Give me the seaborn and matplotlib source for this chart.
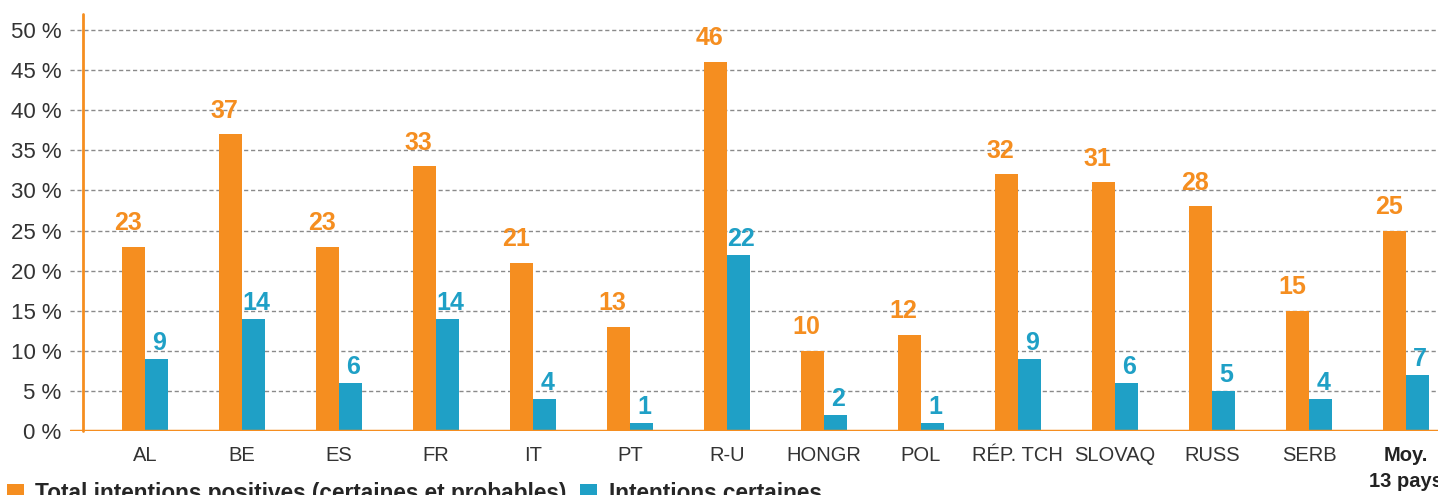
import pandas as pd
import seaborn as sns
import matplotlib.pyplot as plt

# Data
countries = ['AL', 'BE', 'ES', 'FR', 'IT', 'PT', 'R-U', 'HONGR', 'POL',
             'RÉP. TCH', 'SLOVAQ', 'RUSS', 'SERB', 'Moy.\n13 pays']
total_positive = [23, 37, 23, 33, 21, 13, 46, 10, 12, 32, 31, 28, 15, 25]
certain = [9, 14, 6, 14, 4, 1, 22, 2, 1, 9, 6, 5, 4, 7]
series_names = ['Total intentions positives (certaines et probables)',
                'Intentions certaines']

orange = '#F58E20'
blue = '#1FA0C6'
text_col = '#333333'

df = pd.DataFrame({
    'pays': countries * 2,
    'valeur': total_positive + certain,
    'serie': [series_names[0]] * len(countries) + [series_names[1]] * len(countries),
})

sns.set_style('white')
plt.rcParams['font.family'] = ['Liberation Sans', 'DejaVu Sans']

fig = plt.figure(figsize=(14.38, 4.95), dpi=100)
ax = fig.add_axes([70 / 1438, 64 / 495, 1 - 70 / 1438, 417 / 495])

sns.barplot(data=df, x='pays', y='valeur', hue='serie', order=countries,
            hue_order=series_names, palette=[orange, blue], width=0.475,
            saturation=1, linewidth=0, ax=ax, zorder=3)

ax.set_xlim(-0.77, 13.33)
ax.set_ylim(0, 52)
ax.set_yticks(range(0, 51, 5))
ax.set_yticklabels([f'{v} %' for v in range(0, 51, 5)], fontsize=16, color=text_col)
ax.tick_params(axis='both', length=0)
ax.tick_params(axis='y', pad=6)
ax.tick_params(axis='x', pad=11)
for lbl in ax.get_xticklabels():
    lbl.set_fontsize(14.5)
    lbl.set_color(text_col)
    if lbl.get_text().startswith('Moy'):
        lbl.set_fontweight('bold')
        lbl.set_color('#222222')
        lbl.set_linespacing(1.45)
ax.set_xlabel('')
ax.set_ylabel('')

# dashed grid
for v in range(5, 51, 5):
    ax.axhline(v, color='#8a8a8a', linestyle=(0, (3, 2)), linewidth=1, zorder=1)

for s in ax.spines.values():
    s.set_visible(False)
ax.axhline(0, color=orange, linewidth=2.5, zorder=4)
ax.plot([-0.64, -0.64], [0, 52], color=orange, linewidth=2, zorder=4, clip_on=False)

# value labels
for i in range(len(countries)):
    ax.annotate(str(total_positive[i]), (i - 0.119, total_positive[i]),
                xytext=(-4, 12), textcoords='offset points', ha='center', va='baseline',
                fontsize=18, fontweight='bold', color=orange)
    ax.annotate(str(certain[i]), (i + 0.119, certain[i]),
                xytext=(2, 6.5), textcoords='offset points', ha='center', va='baseline',
                fontsize=18, fontweight='bold', color=blue)

handles, labels = ax.get_legend_handles_labels()
ax.get_legend().remove()
fig.legend(handles, labels, loc='upper left', bbox_to_anchor=(0.005, 13 / 495),
           ncol=2, frameon=False, prop={'weight': 'bold', 'size': 16.3},
           handlelength=0.75, handleheight=0.75, handletextpad=0.5,
           columnspacing=0.6, borderaxespad=0, borderpad=0)

fig.savefig('out.png', dpi=100)
